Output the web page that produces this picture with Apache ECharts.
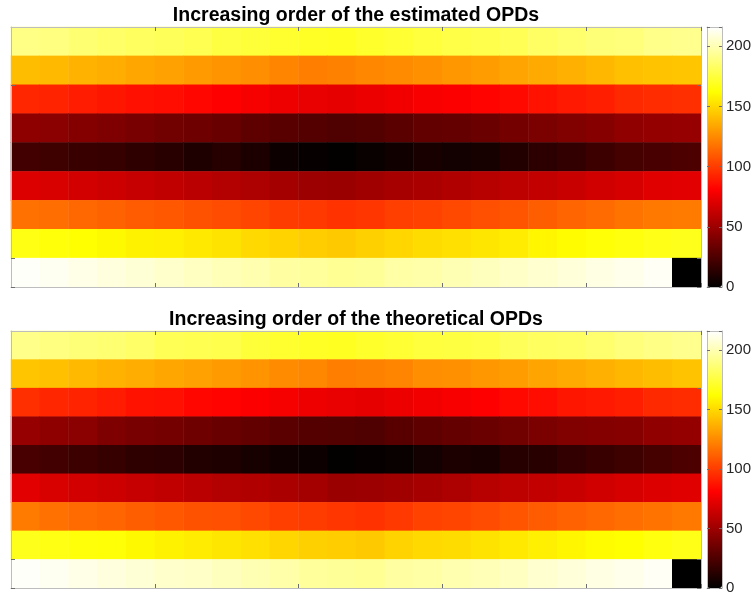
<!DOCTYPE html>
<html>
<head>
<meta charset="utf-8">
<script src="https://cdn.jsdelivr.net/npm/echarts@6/dist/echarts.min.js"></script>
<style>
  html, body { margin: 0; padding: 0; background: #ffffff; }
  #chart { width: 754px; height: 596px; }
</style>
</head>
<body>
<div id="chart"></div>
<script>
// Grid columns (24) and rows (9) of the OPD rank maps
const columns = [1, 2, 3, 4, 5, 6, 7, 8, 9, 10, 11, 12, 13, 14, 15, 16, 17, 18, 19, 20, 21, 22, 23, 24];
const rows = [1, 2, 3, 4, 5, 6, 7, 8, 9];

// Rank of each estimated OPD, one array per row (top to bottom)
const estimatedRow1 = [190, 189, 186, 184, 182, 181, 179, 176, 174, 172, 170, 169, 171, 173, 175, 177, 178, 180, 183, 185, 187, 188, 191, 192];
const estimatedRow2 = [141, 140, 138, 136, 134, 132, 130, 128, 126, 123, 121, 122, 124, 125, 127, 129, 131, 133, 135, 137, 139, 142, 143, 144];
const estimatedRow3 = [93, 92, 90, 88, 86, 85, 83, 81, 78, 76, 74, 73, 75, 77, 79, 80, 82, 84, 87, 89, 91, 94, 95, 96];
const estimatedRow4 = [45, 44, 42, 40, 38, 36, 35, 33, 30, 28, 27, 25, 26, 29, 31, 32, 34, 37, 39, 41, 43, 46, 47, 48];
const estimatedRow5 = [21, 20, 18, 17, 15, 13, 10, 12, 9, 4, 2, 1, 3, 5, 8, 6, 7, 11, 14, 16, 19, 22, 23, 24];
const estimatedRow6 = [70, 69, 67, 65, 63, 61, 59, 57, 55, 52, 50, 49, 51, 53, 54, 56, 58, 60, 62, 64, 66, 68, 71, 72];
const estimatedRow7 = [117, 116, 114, 112, 110, 109, 107, 105, 103, 100, 99, 97, 98, 101, 102, 104, 106, 108, 111, 113, 115, 118, 119, 120];
const estimatedRow8 = [166, 164, 162, 160, 158, 157, 155, 153, 150, 148, 146, 145, 147, 149, 151, 152, 154, 156, 159, 161, 163, 165, 167, 168];
const estimatedRow9 = [215, 213, 211, 209, 207, 205, 203, 201, 199, 196, 195, 193, 194, 197, 198, 200, 202, 204, 206, 208, 210, 212, 214, 0];

// Rank of each theoretical OPD, one array per row (top to bottom)
const theoreticalRow1 = [191, 189, 187, 186, 184, 180, 179, 178, 174, 172, 170, 169, 171, 173, 175, 176, 177, 181, 182, 183, 185, 188, 190, 192];
const theoreticalRow2 = [144, 142, 140, 138, 136, 134, 132, 130, 128, 125, 124, 121, 122, 123, 126, 127, 129, 131, 133, 135, 137, 139, 141, 143];
const theoreticalRow3 = [96, 93, 92, 90, 87, 86, 83, 82, 80, 78, 76, 74, 73, 75, 77, 79, 81, 84, 85, 88, 89, 91, 94, 95];
const theoreticalRow4 = [48, 45, 44, 40, 38, 37, 35, 33, 31, 29, 27, 26, 25, 28, 30, 32, 34, 36, 39, 41, 42, 43, 46, 47];
const theoreticalRow5 = [23, 21, 19, 17, 15, 14, 11, 10, 7, 5, 4, 1, 2, 3, 6, 9, 8, 12, 13, 16, 18, 20, 22, 24];
const theoreticalRow6 = [72, 69, 67, 65, 63, 61, 59, 57, 56, 54, 52, 49, 50, 51, 53, 55, 58, 60, 62, 64, 66, 68, 70, 71];
const theoreticalRow7 = [120, 117, 115, 113, 111, 109, 107, 106, 104, 101, 100, 98, 97, 99, 102, 103, 105, 108, 110, 112, 114, 116, 118, 119];
const theoreticalRow8 = [168, 166, 164, 163, 160, 158, 156, 154, 152, 149, 147, 146, 145, 148, 150, 151, 153, 155, 157, 159, 161, 162, 165, 167];
const theoreticalRow9 = [215, 213, 211, 209, 207, 205, 204, 202, 200, 198, 195, 194, 193, 196, 197, 199, 201, 203, 206, 208, 210, 212, 214, 0];

const estimatedRows = [estimatedRow1, estimatedRow2, estimatedRow3, estimatedRow4, estimatedRow5,
                       estimatedRow6, estimatedRow7, estimatedRow8, estimatedRow9];
const theoreticalRows = [theoreticalRow1, theoreticalRow2, theoreticalRow3, theoreticalRow4, theoreticalRow5,
                         theoreticalRow6, theoreticalRow7, theoreticalRow8, theoreticalRow9];

const titles = ['Increasing order of the estimated OPDs', 'Increasing order of the theoretical OPDs'];
const colorbarTicks = [0, 50, 100, 150, 200];
const colorMin = 0;
const colorMax = 216;

// "hot" colormap: black -> red -> yellow -> white, as evenly spaced stops
const hotStops = ['#000000', '#550000', '#aa0000', '#ff0000', '#ff5500', '#ffaa00', '#ffff00', '#ffff80', '#ffffff'];

// Ticks sit on cell boundaries: every 5th column, rows 2 and 8
const xTickBoundaries = [5, 10, 15, 20];
const yTickBoundaries = [2, 8];

const FONT = '"Liberation Sans", Arial, Helvetica, sans-serif';
const boxColor = '#bdbdbd';
const tickColor = '#6e6e6e';

function toCells(rowArrays) {
  const cells = [];
  rowArrays.forEach((vals, r) => {
    vals.forEach((v, c) => cells.push([c, r, v]));
  });
  return cells;
}

const panels = [
  { top: 27, height: 260, titleTop: 1, data: toCells(estimatedRows) },
  { top: 331, height: 257, titleTop: 305, data: toCells(theoreticalRows) }
];
const plotLeft = 11, plotWidth = 690;
const barLeft = 707, barWidth = 15;

const option = {
  animation: false,
  backgroundColor: '#ffffff',
  title: [], grid: [], xAxis: [], yAxis: [], visualMap: [], series: []
};

panels.forEach((p, k) => {
  option.title.push({
    text: titles[k],
    left: plotLeft + plotWidth / 2 - 5,
    top: p.titleTop,
    textAlign: 'center',
    textStyle: { fontFamily: FONT, fontSize: 19.5, fontWeight: 'bold', color: '#000000' }
  });

  // heatmap grid
  const g = option.grid.length;
  option.grid.push({ left: plotLeft, top: p.top, width: plotWidth, height: p.height, containLabel: false });
  const xTick = {
    show: true, inside: true, length: 4, alignWithLabel: false,
    interval: (i) => xTickBoundaries.indexOf(i) >= 0,
    lineStyle: { color: tickColor, width: 1 }
  };
  const yTick = {
    show: true, inside: true, length: 4, alignWithLabel: false,
    interval: (i) => yTickBoundaries.indexOf(i) >= 0,
    lineStyle: { color: tickColor, width: 1 }
  };
  const xb = option.xAxis.length;
  ['bottom', 'top'].forEach(pos => option.xAxis.push({
    type: 'category', gridIndex: g, position: pos, data: columns, boundaryGap: true,
    axisLine: { show: true, lineStyle: { color: boxColor, width: 1 } },
    axisTick: xTick, axisLabel: { show: false }, splitLine: { show: false }, z: 10
  }));
  const yb = option.yAxis.length;
  ['left', 'right'].forEach(pos => option.yAxis.push({
    type: 'category', gridIndex: g, position: pos, data: rows, inverse: true, boundaryGap: true,
    axisLine: { show: true, lineStyle: { color: boxColor, width: 1 } },
    axisTick: yTick, axisLabel: { show: false }, splitLine: { show: false }, z: 10
  }));
  option.series.push({
    type: 'heatmap', xAxisIndex: xb, yAxisIndex: yb, data: p.data,
    itemStyle: { borderWidth: 0 }, emphasis: { disabled: true }
  });

  // colour bar
  option.visualMap.push({
    type: 'continuous', seriesIndex: k, min: colorMin, max: colorMax,
    calculable: false, realtime: false, hoverLink: false,
    left: barLeft, top: p.top, itemWidth: barWidth, itemHeight: p.height,
    padding: 0, text: null, showLabel: false,
    inRange: { color: hotStops }
  });

  // colour bar frame and tick labels
  const cg = option.grid.length;
  option.grid.push({ left: barLeft, top: p.top, width: barWidth, height: p.height, containLabel: false });
  ['bottom', 'top'].forEach(pos => option.xAxis.push({
    type: 'value', gridIndex: cg, position: pos, min: 0, max: 1,
    axisLine: { show: true, onZero: false, lineStyle: { color: boxColor, width: 1 } },
    axisTick: { show: false }, axisLabel: { show: false }, splitLine: { show: false }, z: 10
  }));
  ['left', 'right'].forEach(pos => option.yAxis.push({
    type: 'value', gridIndex: cg, position: pos, min: colorMin, max: colorMax,
    interval: 50,
    axisLine: { show: true, onZero: false, lineStyle: { color: boxColor, width: 1 } },
    axisTick: { show: true, inside: true, length: 3, lineStyle: { color: tickColor } },
    axisLabel: {
      show: pos === 'right', margin: 4, fontFamily: FONT, fontSize: 15, color: '#262626',
      formatter: (v) => (colorbarTicks.indexOf(v) >= 0 ? String(v) : '')
    },
    splitLine: { show: false }, z: 10
  }));
});

const chart = echarts.init(document.getElementById('chart'), null, { renderer: 'canvas' });
chart.setOption(option);
</script>
</body>
</html>
